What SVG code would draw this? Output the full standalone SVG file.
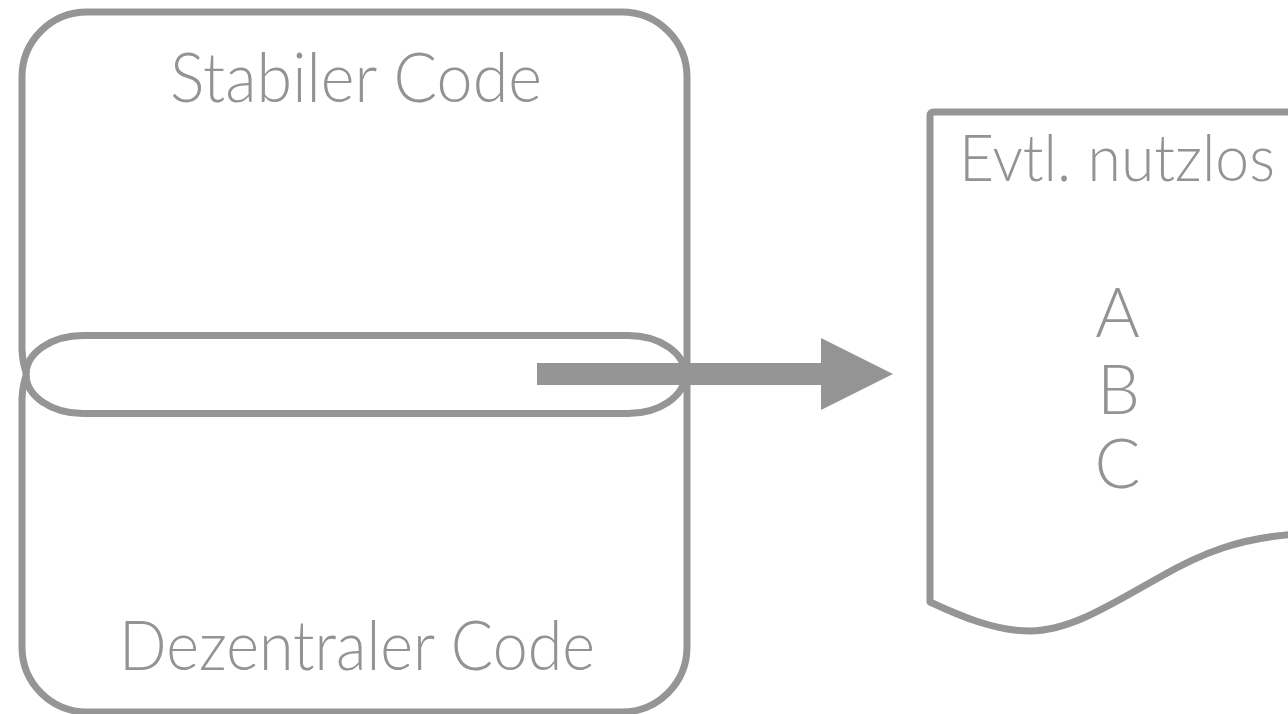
<svg xmlns="http://www.w3.org/2000/svg" width="1288" height="714" viewBox="0 0 1288 714">
  <style>
    .shape { fill: none; stroke: #959595; stroke-width: 7; stroke-linejoin: round; }
    .label { font-family: Lato, "Open Sans", "Liberation Sans", sans-serif; font-weight: 300; fill: #939393; }
    .arrow { fill: #959595; stroke: none; }
  </style>
  <rect x="0" y="0" width="1288" height="714" fill="#ffffff"/>
  <g id="node-stabiler-code">
    <path class="shape" d="M687,374 L687,77 A65,65 0 0 0 622,12 L87,12 A65,65 0 0 0 22,77 L22,350 Q23,366 27,374"/>
    <text class="label" x="170" y="101.7" font-size="69" textLength="372" lengthAdjust="spacingAndGlyphs">Stabiler Code</text>
  </g>
  <g id="node-dezentraler-code">
    <path class="shape" d="M27,374 Q23,382 22,398 L22,647 A65,65 0 0 0 87,712 L622,712 A65,65 0 0 0 687,647 L687,374"/>
    <text class="label" x="119" y="670" font-size="69" textLength="476" lengthAdjust="spacingAndGlyphs">Dezentraler Code</text>
  </g>
  <g id="node-overlap">
    <rect class="shape" x="26" y="335.5" width="659" height="78" rx="57" ry="39"/>
  </g>
  <g id="node-evtl-nutzlos">
    <path class="shape" d="M1300,112 L934,112 Q930,112 930,116 L930,602 C960,616 995,631 1030,631 C1070,631 1110,605 1160,577 C1200,554 1240,537 1300,534"/>
    <text class="label" x="959" y="181" font-size="65" textLength="316" lengthAdjust="spacingAndGlyphs">Evtl. nutzlos</text>
    <text class="label" x="1117.5" y="336.7" font-size="68" text-anchor="middle">A</text>
    <text class="label" x="1118.5" y="414.3" font-size="68" text-anchor="middle">B</text>
    <text class="label" x="1117.5" y="487.5" font-size="68" text-anchor="middle">C</text>
  </g>
  <g id="connectors">
    <path class="arrow" d="M537,363 L821,363 L821,338 L893,374 L821,410 L821,385 L537,385 Z"/>
  </g>
</svg>
